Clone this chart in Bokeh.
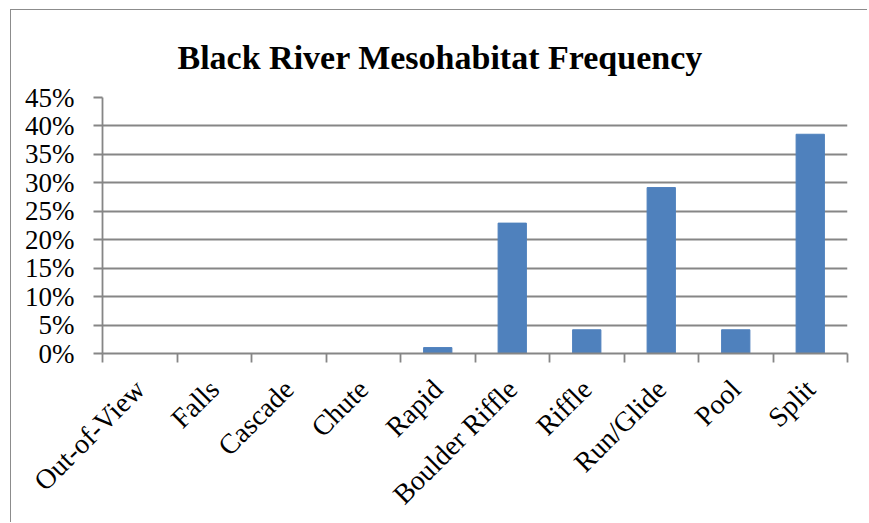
from bokeh.plotting import figure
from bokeh.models import FixedTicker, NumeralTickFormatter, Range1d, ColumnDataSource
from bokeh.embed import file_html
from bokeh.resources import INLINE
import math

categories = ["Out-of-View", "Falls", "Cascade", "Chute", "Rapid",
              "Boulder Riffle", "Riffle", "Run/Glide", "Pool", "Split"]
frequency = [0.0, 0.0, 0.0, 0.0, 0.0104, 0.2292, 0.0417, 0.2917, 0.0417, 0.3854]
y_ticks = [0.0, 0.05, 0.10, 0.15, 0.20, 0.25, 0.30, 0.35, 0.40, 0.45]

n = len(categories)
xpos = [i + 0.5 for i in range(n)]
src = ColumnDataSource(dict(x=xpos, top=frequency, cat=categories))

GRAY = "#868686"
FONT = "Liberation Serif"

p = figure(width=857, height=513, output_backend="svg", toolbar_location=None,
           x_range=Range1d(0, n), y_range=Range1d(0, 0.45),
           title="Black River Mesohabitat Frequency",
           min_border_left=91, min_border_right=21, min_border_top=87,
           min_border_bottom=166)
p.margin = (9, 0, 0, 10)

p.title.text_font = FONT
p.title.text_font_size = "34px"
p.title.text_font_style = "bold"
p.title.text_color = "black"
p.title.align = "left"
p.title.vertical_align = "top"
p.title.offset = 75
p.title.standoff = 40

p.vbar(x="x", top="top", width=0.38, bottom=0, source=src,
       fill_color="#4F81BD", line_color="#4F81BD")

p.outline_line_color = None
p.xgrid.visible = False
p.ygrid.ticker = FixedTicker(ticks=y_ticks)
p.ygrid.grid_line_color = GRAY
p.ygrid.grid_line_width = 1.8

# y axis
p.yaxis.ticker = FixedTicker(ticks=y_ticks)
p.yaxis.formatter = NumeralTickFormatter(format="0%")
p.yaxis.axis_line_color = GRAY
p.yaxis.axis_line_width = 1.8
p.yaxis.major_tick_line_color = GRAY
p.yaxis.major_tick_line_width = 1.8
p.yaxis.major_tick_out = 9
p.yaxis.major_tick_in = 0
p.yaxis.minor_tick_line_color = None
p.yaxis.major_label_text_font = FONT
p.yaxis.major_label_text_font_size = "27px"
p.yaxis.major_label_text_color = "black"
p.yaxis.major_label_standoff = 19

# x axis: labels at centers, ticks at category boundaries
p.xaxis.ticker = FixedTicker(ticks=xpos, minor_ticks=list(range(n + 1)))
p.xaxis.major_label_overrides = {x: c for x, c in zip(xpos, categories)}
p.xaxis.axis_line_color = GRAY
p.xaxis.axis_line_width = 1.8
p.xaxis.major_tick_line_color = None
p.xaxis.minor_tick_line_color = GRAY
p.xaxis.minor_tick_line_width = 1.8
p.xaxis.minor_tick_out = 9
p.xaxis.minor_tick_in = 0
p.xaxis.major_label_orientation = math.pi / 4
p.xaxis.major_label_text_font = FONT
p.xaxis.major_label_text_font_size = "28px"
p.xaxis.major_label_text_color = "black"
p.xaxis.major_label_standoff = 22

p.styles = {"border-left": "1px solid #8c8c8c", "border-top": "1px solid #8c8c8c"}

open("out.html", "w").write(file_html(p, INLINE))
